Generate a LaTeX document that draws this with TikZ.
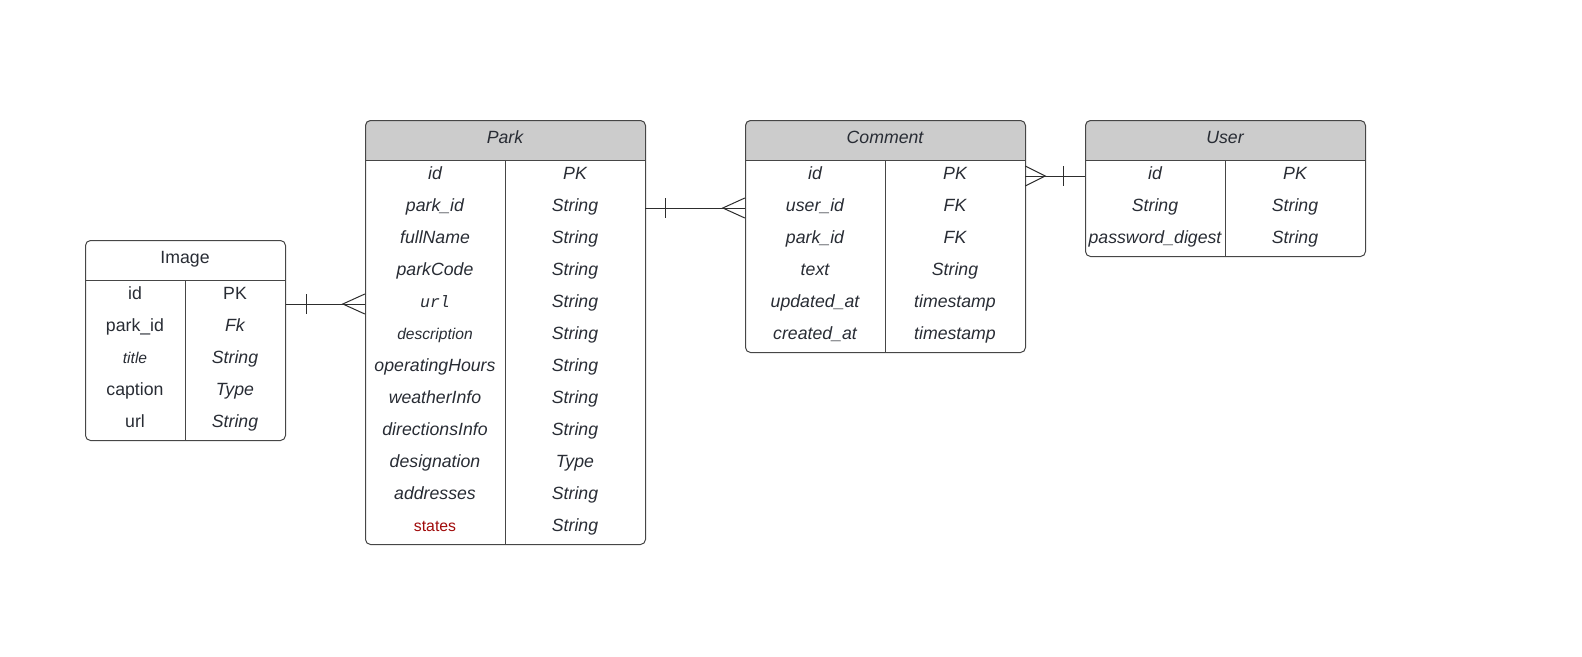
\documentclass[tikz,border=0pt]{standalone}
\usepackage{fontspec}
\setmainfont{Liberation Sans}
\newfontfamily\monof{Liberation Mono}
\usetikzlibrary{calc}
\definecolor{bordc}{RGB}{70,70,70}
\definecolor{connc}{RGB}{45,45,45}
\definecolor{txc}{RGB}{40,44,52}
\definecolor{hdc}{RGB}{204,204,204}
\definecolor{redc}{RGB}{160,10,10}
\tikzset{
  tbl/.style={draw=bordc, line width=1pt, rounded corners=5pt, inner sep=0pt, anchor=north west},
  sepline/.style={draw=bordc, line width=1pt},
  conn/.style={draw=connc, line width=1pt},
  cell/.style={inner sep=0pt, minimum height=32pt, text height=7pt, text depth=0pt, text=txc},
  hdtext/.style={inner sep=0pt, text height=7pt, text depth=0pt, text=txc, minimum height=40pt},
  fup/.style={font=\fontsize{17.7}{20}\selectfont},
  fit/.style={font=\fontsize{17.7}{20}\selectfont\itshape},
  fsm/.style={font=\fontsize{15.6}{18}\selectfont\itshape},
  fmono/.style={font=\fontsize{16.5}{18}\selectfont\monof\itshape},
  fred/.style={font=\fontsize{15.8}{18}\selectfont, text=redc},
}
\begin{document}
\begin{tikzpicture}[x=1pt,y=-1pt]
\useasboundingbox (0,0) rectangle (1582,656);

% ---------- header fills ----------
\foreach \x in {365,745,1085}{
  \begin{scope}
    \clip (\x,120) rectangle (\x+280,160);
    \fill[hdc, rounded corners=5pt] (\x,120) rectangle (\x+280,200);
  \end{scope}
}

% ---------- Image ----------
\node[tbl, minimum width=200pt, minimum height=200pt] (image) at (85,240) {};
\draw[sepline] (85,280) -- (285,280);
\draw[sepline] (185,280) -- (185,440);
\node[hdtext, fup, minimum width=200pt] (image-h) at (185,260) {Image};
\foreach \a/\sa/\b/\sb [count=\i] in {id/fup/PK/fup, park\_id/fup/Fk/fit, title/fsm/String/fit, caption/fup/Type/fit, url/fup/String/fit}{
  \node[cell, \sa, minimum width=100pt] (image-n\i) at (135,280+32*\i-16) {\a};
  \node[cell, \sb, minimum width=100pt] (image-v\i) at (235,280+32*\i-16) {\b};
}

% ---------- Park ----------
\node[tbl, minimum width=280pt, minimum height=424pt] (park) at (365,120) {};
\draw[sepline] (365,160) -- (645,160);
\draw[sepline] (505,160) -- (505,544);
\node[hdtext, fit, minimum width=280pt] (park-h) at (505,140) {Park};
\foreach \a/\sa/\b/\sb [count=\i] in {id/fit/PK/fit, park\_id/fit/String/fit, fullName/fit/String/fit, parkCode/fit/String/fit, url/fmono/String/fit, description/fsm/String/fit, operatingHours/fit/String/fit, weatherInfo/fit/String/fit, directionsInfo/fit/String/fit, designation/fit/Type/fit, addresses/fit/String/fit, states/fred/String/fit}{
  \node[cell, \sa, minimum width=140pt] (park-n\i) at (435,160+32*\i-16) {\a};
  \node[cell, \sb, minimum width=140pt] (park-v\i) at (575,160+32*\i-16) {\b};
}

% ---------- Comment ----------
\node[tbl, minimum width=280pt, minimum height=232pt] (comment) at (745,120) {};
\draw[sepline] (745,160) -- (1025,160);
\draw[sepline] (885,160) -- (885,352);
\node[hdtext, fit, minimum width=280pt] (comment-h) at (885,140) {Comment};
\foreach \a/\sa/\b/\sb [count=\i] in {id/fit/PK/fit, user\_id/fit/FK/fit, park\_id/fit/FK/fit, text/fit/String/fit, updated\_at/fit/timestamp/fit, created\_at/fit/timestamp/fit}{
  \node[cell, \sa, minimum width=140pt] (comment-n\i) at (815,160+32*\i-16) {\a};
  \node[cell, \sb, minimum width=140pt] (comment-v\i) at (955,160+32*\i-16) {\b};
}

% ---------- User ----------
\node[tbl, minimum width=280pt, minimum height=136pt] (user) at (1085,120) {};
\draw[sepline] (1085,160) -- (1365,160);
\draw[sepline] (1225,160) -- (1225,256);
\node[hdtext, fit, minimum width=280pt] (user-h) at (1225,140) {User};
\foreach \a/\sa/\b/\sb [count=\i] in {id/fit/PK/fit, String/fit/String/fit, password\_digest/fit/String/fit}{
  \node[cell, \sa, minimum width=140pt] (user-n\i) at (1155,160+32*\i-16) {\a};
  \node[cell, \sb, minimum width=140pt] (user-v\i) at (1295,160+32*\i-16) {\b};
}

% ---------- connectors ----------
% Image -- Park
\draw[conn] (image.east |- park-n5) -- (park-n5.west);
\draw[conn] ($(image.east |- park-n5)+(20,-10)$) -- ($(image.east |- park-n5)+(20,10)$);
\draw[conn] ($(park-n5.west)+(0,-10)$) -- ($(park-n5.west)+(-22,0)$) -- ($(park-n5.west)+(0,10)$);

% Park -- Comment
\draw[conn] (park-v2.east) -- (comment-n2.west);
\draw[conn] ($(park-v2.east)+(20,-10)$) -- ($(park-v2.east)+(20,10)$);
\draw[conn] ($(comment-n2.west)+(0,-10)$) -- ($(comment-n2.west)+(-22,0)$) -- ($(comment-n2.west)+(0,10)$);

% Comment -- User
\draw[conn] (comment-v1.east) -- (user-n1.west);
\draw[conn] ($(user-n1.west)+(-21,-10)$) -- ($(user-n1.west)+(-21,10)$);
\draw[conn] ($(comment-v1.east)+(0,-10)$) -- ($(comment-v1.east)+(20,0)$) -- ($(comment-v1.east)+(0,10)$);
\end{tikzpicture}
\end{document}
